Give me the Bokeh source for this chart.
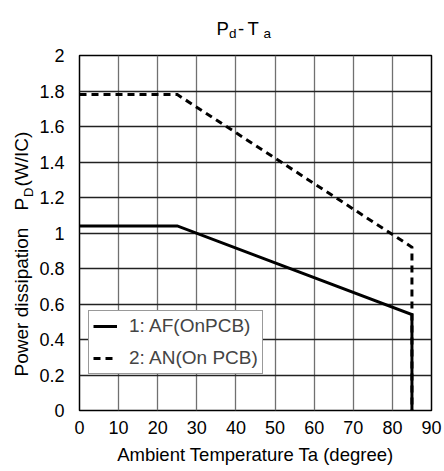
import math
from bokeh.plotting import figure
from bokeh.layouts import column, row
from bokeh.models import FixedTicker, Legend, LegendItem, Label, Range1d
from bokeh.embed import file_html
from bokeh.resources import INLINE

# ---- data ----
ta = [0, 25, 85, 85]
pd_af = [1.04, 1.04, 0.54, 0.0]
pd_an = [1.78, 1.78, 0.92, 0.0]
series_names = ["1: AF(OnPCB)", "2: AN(On PCB)"]
x_ticks = [0, 10, 20, 30, 40, 50, 60, 70, 80, 90]
y_ticks = [0, 0.2, 0.4, 0.6, 0.8, 1, 1.2, 1.4, 1.6, 1.8, 2]
y_tick_labels = ["0", "0.2", "0.4", "0.6", "0.8", "1", "1.2", "1.4", "1.6", "1.8", "2"]
x_title = "Ambient Temperature Ta (degree)"
title_parts = ["P", "d", "-", "T", "a"]           # P_d - T_a
ylab_parts = ["Power dissipation", "P", "D", "(W/IC)"]  # Power dissipation P_D (W/IC)

FONT = "Liberation Sans"
W, H = 444, 471
TITLE_H = 40
YLAB_W = 36
BORDER_TOP, BORDER_BOTTOM = 15, 61          # main chart borders inside the row
FRAME_TOP, FRAME_BOTTOM = TITLE_H + BORDER_TOP, H - BORDER_BOTTOM   # page pixels


def text_panel(width, height, x_range, y_range, **kw):
    f = figure(width=width, height=height, x_range=x_range, y_range=y_range,
               x_axis_type=None, y_axis_type=None,
               output_backend="svg", toolbar_location=None, title_location=None, **kw)
    f.outline_line_color = None
    f.background_fill_color = "white"
    f.border_fill_color = "white"
    return f


# ---- title panel (coordinates = page pixels) ----
tp = text_panel(W, TITLE_H, Range1d(0, W), Range1d(TITLE_H, 0), min_border=0)
title_pos = [(216, 28, "18.5px"), (228.5, 33, "13.5px"), (237.5, 28, "18.5px"),
             (247, 28, "18.5px"), (263, 33, "13.5px")]
for txt, (px, py, fs) in zip(title_parts, title_pos):
    tp.add_layout(Label(x=px, y=py, text=txt, text_font=FONT, text_font_size=fs,
                        text_align="left", text_baseline="alphabetic", text_color="black"))

# ---- y-axis title panel (its frame spans the main frame's rows; coords = page pixels) ----
yp = text_panel(YLAB_W, H - TITLE_H, Range1d(0, YLAB_W), Range1d(FRAME_BOTTOM, FRAME_TOP),
                min_border_left=0, min_border_right=0,
                min_border_top=BORDER_TOP, min_border_bottom=BORDER_BOTTOM)
ylab_pos = [(20.5, 376, "19px"), (20.5, 210, "19px"), (27.5, 196.5, "13px"), (20.5, 186, "19px")]
for txt, (px, py, fs) in zip(ylab_parts, ylab_pos):
    yp.add_layout(Label(x=px, y=py, text=txt, text_font=FONT, text_font_size=fs,
                        angle=math.pi / 2, text_align="left", text_baseline="middle",
                        text_color="black"))

# ---- main chart ----
p = figure(width=W - YLAB_W, height=H - TITLE_H,
           min_border_left=42, min_border_right=13,
           min_border_top=BORDER_TOP, min_border_bottom=BORDER_BOTTOM,
           x_range=Range1d(0, 90), y_range=Range1d(0, 2),
           output_backend="svg", toolbar_location=None, title_location=None)

p.background_fill_color = "white"
p.border_fill_color = "white"
p.outline_line_color = "black"
p.outline_line_width = 1.5

for ax in (p.xaxis[0], p.yaxis[0]):
    ax.axis_line_color = None
    ax.major_tick_line_color = None
    ax.minor_tick_line_color = None
    ax.major_tick_out = 0
    ax.major_tick_in = 0
    ax.major_label_text_font = FONT
    ax.major_label_text_font_size = "18px"
    ax.major_label_text_color = "black"

p.xaxis.ticker = FixedTicker(ticks=x_ticks)
p.yaxis.ticker = FixedTicker(ticks=y_ticks)
p.yaxis.major_label_overrides = dict(zip(y_ticks, y_tick_labels))
p.xaxis.major_label_standoff = 10
p.yaxis.major_label_standoff = 15

p.xaxis.axis_label = x_title
p.xaxis.axis_label_text_font = FONT
p.xaxis.axis_label_text_font_size = "18.5px"
p.xaxis.axis_label_text_font_style = "normal"
p.xaxis.axis_label_text_color = "black"
p.xaxis.axis_label_standoff = 7

p.xgrid.ticker = FixedTicker(ticks=x_ticks)
p.ygrid.ticker = FixedTicker(ticks=y_ticks)
p.xgrid.grid_line_color = "#707070"
p.xgrid.grid_line_width = 1.3
p.ygrid.grid_line_color = "#222222"
p.ygrid.grid_line_width = 1.3

r1 = p.line(ta, pd_af, line_color="black", line_width=3, line_join="miter")
r2 = p.line(ta, pd_an, line_color="black", line_width=3, line_dash="7 5", line_join="miter")

legend = Legend(items=[LegendItem(label=series_names[0], renderers=[r1]),
                       LegendItem(label=series_names[1], renderers=[r2])],
                location=(9, 36), margin=0, padding=4, spacing=10,
                glyph_width=24, glyph_height=20, label_height=20, label_standoff=12,
                label_text_font=FONT, label_text_font_size="19px",
                border_line_color="#333333", border_line_width=1,
                background_fill_color="white", background_fill_alpha=1.0)
p.add_layout(legend)

layout = column(tp, row(yp, p))

open("out.html", "w").write(file_html(layout, INLINE))
